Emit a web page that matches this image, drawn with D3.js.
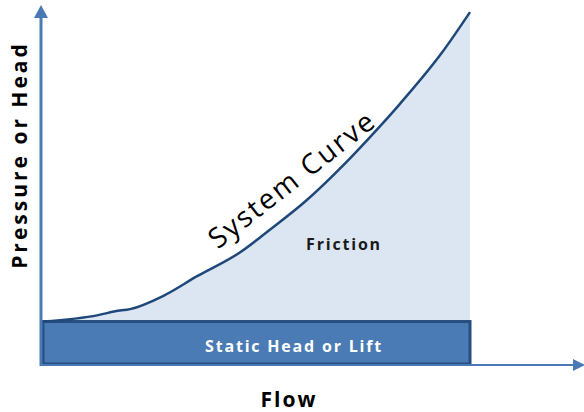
<!DOCTYPE html>
<html>
<head>
<meta charset="UTF-8">
<title>System Curve</title>
<script src="https://d3js.org/d3.v7.min.js"></script>
<style>
  body { margin: 0; background: white; }
  text { font-family: "Open Sans", "Liberation Sans", sans-serif; }
  .label { font-weight: bold; fill: black; }
</style>
</head>
<body>
<script>
// flow (0..100) vs head (0..100)
var flow = [0, 12.9, 16.9, 20.4, 28.1, 36.1, 46.1, 53.2, 61.4, 70.7, 78.2, 83.6, 93.4, 100];
var head = [12, 13.8, 14.9, 15.5, 19.2, 24.8, 31.5, 38.0, 45.9, 56.6, 66.2, 73.5, 87.9, 99.4];
var staticHead = 12;

var width = 584, height = 412;
var svg = d3.select("body").append("svg")
    .attr("width", width).attr("height", height);

var x = d3.scaleLinear().domain([0, 100]).range([43, 470]);
var y = d3.scaleLinear().domain([0, 100]).range([364, 10]);

var pts = flow.map(function (f, i) { return [f, head[i]]; });

// friction area
var area = d3.area()
    .x(function (d) { return x(d[0]); })
    .y0(y(staticHead))
    .y1(function (d) { return y(d[1]); })
    .curve(d3.curveMonotoneX);

svg.append("path").datum(pts)
    .attr("d", area)
    .attr("fill", "#dce6f2");

// static head band
svg.append("rect")
    .attr("x", x(0)).attr("y", y(staticHead))
    .attr("width", x(100) - x(0)).attr("height", y(0) - y(staticHead))
    .attr("fill", "#4a7bb5")
    .attr("stroke", "#264f80")
    .attr("stroke-width", 3);

// system curve
var line = d3.line()
    .x(function (d) { return x(d[0]); })
    .y(function (d) { return y(d[1]); })
    .curve(d3.curveMonotoneX);

svg.append("path").datum(pts)
    .attr("d", line)
    .attr("fill", "none")
    .attr("stroke", "#1f487a")
    .attr("stroke-width", 2.5);

// axes with arrows
var axisColor = "#4a7ab5";
svg.append("line")
    .attr("x1", 41).attr("y1", 366).attr("x2", 41).attr("y2", 14)
    .attr("stroke", axisColor).attr("stroke-width", 3);
svg.append("path")
    .attr("d", "M41,5 L48,18 L34,18 Z")
    .attr("fill", axisColor);

svg.append("line")
    .attr("x1", 41).attr("y1", 365).attr("x2", 576).attr("y2", 365)
    .attr("stroke", axisColor).attr("stroke-width", 2);
svg.append("path")
    .attr("d", "M585,365 L573,359 L573,371 Z")
    .attr("fill", axisColor);

// labels
svg.append("text")
    .attr("class", "label")
    .attr("transform", "translate(27,155) rotate(-90)")
    .attr("text-anchor", "middle")
    .attr("font-size", 21)
    .attr("letter-spacing", 3)
    .text("Pressure or Head");

svg.append("text")
    .attr("class", "label")
    .attr("x", 289).attr("y", 407)
    .attr("text-anchor", "middle")
    .attr("font-size", 21)
    .attr("letter-spacing", 2)
    .text("Flow");

svg.append("text")
    .attr("transform", "translate(298,187) rotate(-38)")
    .attr("text-anchor", "middle")
    .attr("font-size", 28)
    .attr("letter-spacing", 2.2)
    .attr("fill", "black")
    .text("System Curve");

svg.append("text")
    .attr("x", 344).attr("y", 250)
    .attr("text-anchor", "middle")
    .attr("font-size", 16)
    .attr("font-weight", "bold")
    .attr("letter-spacing", 1.8)
    .attr("fill", "#1a1a1a")
    .text("Friction");

svg.append("text")
    .attr("x", 294).attr("y", 352)
    .attr("text-anchor", "middle")
    .attr("font-size", 16)
    .attr("font-weight", "bold")
    .attr("letter-spacing", 1.8)
    .attr("fill", "white")
    .text("Static Head or Lift");
</script>
</body>
</html>
